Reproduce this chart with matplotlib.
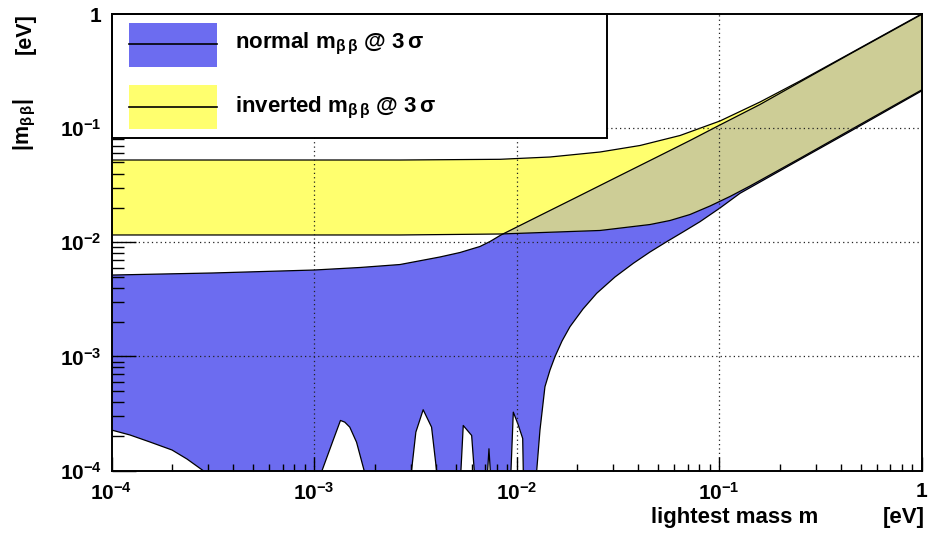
import matplotlib
matplotlib.use('Agg')
import matplotlib.pyplot as plt
import numpy as np
from matplotlib.ticker import LogLocator, NullFormatter, FixedLocator, FixedFormatter
from matplotlib.patches import Rectangle
from matplotlib.lines import Line2D

# ---------------- data ----------------
# inverted hierarchy band
inv_upper_m = [1e-4, 2.659e-3, 8.29e-3, 1.464e-2, 2.584e-2, 4.074e-2, 6.42e-2,
               0.1011, 0.1594, 0.2512, 0.4435, 1.0]
inv_upper_mbb = [0.05256, 0.05256, 0.05331, 0.05585, 0.06176, 0.07044, 0.08617,
                 0.1155, 0.1694, 0.2588, 0.4507, 1.0]

inv_lower_m = [1e-4, 2.659e-3, 8.29e-3, 2.584e-2, 4.563e-2, 5.728e-2, 7.19e-2,
               9.03e-2, 0.1133, 0.1423, 0.2512, 0.4435, 1.0]
inv_lower_mbb = [0.01158, 0.01158, 0.01181, 0.01268, 0.01430, 0.01551, 0.01750,
                 0.02078, 0.02518, 0.03111, 0.05438, 0.0959, 0.2158]

# normal hierarchy band
norm_upper_m = [1e-4, 3.17e-4, 1e-3, 1.688e-3, 2.659e-3, 4.19e-3, 5.26e-3, 6.60e-3,
                7.40e-3, 8.38e-3, 1.306e-2, 1.99e-2, 3.135e-2, 4.94e-2, 7.19e-2,
                0.1011, 0.1594, 0.2512, 0.4435, 1.0]
norm_upper_mbb = [0.00516, 0.00538, 0.00571, 0.00601, 0.00638, 0.00743, 0.00813, 0.00918,
                  0.01015, 0.01158, 0.01716, 0.0249, 0.0373, 0.0558, 0.0779,
                  0.1066, 0.1611, 0.2536, 0.4462, 0.990]

norm_lower_m = [1e-4, 1.234e-4, 1.549e-4, 1.990e-4, 2.359e-4, 2.830e-4, 5.5e-4,
                1.096e-3, 1.242e-3, 1.351e-3, 1.419e-3, 1.502e-3, 1.622e-3, 1.768e-3, 2.3e-3,
                3.032e-3, 3.184e-3, 3.460e-3, 3.807e-3, 4.030e-3, 4.6e-3,
                5.316e-3, 5.458e-3, 6.005e-3, 6.184e-3, 6.7e-3,
                7.204e-3, 7.311e-3, 7.421e-3, 8.3e-3,
                9.393e-3, 9.643e-3, 1.014e-2, 1.073e-2, 1.080e-2, 1.17e-2,
                1.2585e-2, 1.306e-2, 1.382e-2, 1.464e-2, 1.549e-2, 1.678e-2, 1.837e-2,
                2.130e-2, 2.489e-2, 3.064e-2, 3.774e-2, 4.563e-2, 5.516e-2, 6.641e-2,
                8.056e-2, 0.1011, 0.1270, 0.2512, 0.4435, 1.0]
norm_lower_mbb = [2.263e-4, 2.047e-4, 1.777e-4, 1.512e-4, 1.261e-4, 1.0e-4, 3e-5,
                  1.0e-4, 1.833e-4, 2.745e-4, 2.653e-4, 2.398e-4, 1.771e-4, 1.0e-4, 5e-5,
                  1.0e-4, 2.168e-4, 3.407e-4, 2.398e-4, 1.0e-4, 5e-5,
                  1.0e-4, 2.48e-4, 2.028e-4, 1.0e-4, 5e-5,
                  1.0e-4, 1.55e-4, 1.0e-4, 5e-5,
                  1.0e-4, 3.246e-4, 2.584e-4, 1.909e-4, 1.0e-4, 5e-5,
                  1.0e-4, 2.263e-4, 5.424e-4, 7.60e-4, 9.94e-4, 1.363e-3, 1.820e-3,
                  2.601e-3, 3.570e-3, 4.960e-3, 6.539e-3, 8.215e-3, 1.011e-2, 1.230e-2,
                  1.514e-2, 1.995e-2, 2.685e-2, 0.0531, 0.0934, 0.2115]

major_ticks = [1e-4, 1e-3, 1e-2, 1e-1, 1.0]
tick_labels = [r'10$^{-4}$', r'10$^{-3}$', r'10$^{-2}$', r'10$^{-1}$', '1']
grid_vals = [1e-3, 1e-2, 1e-1]

legend_labels = [r'normal m$_{\mathrm{\beta\,\beta}}$ @ 3$\,\mathrm{\sigma}$',
                 r'inverted m$_{\mathrm{\beta\,\beta}}$ @ 3$\,\mathrm{\sigma}$']

# ---------------- style ----------------
plt.rcParams['font.family'] = ['Liberation Sans', 'DejaVu Sans']
plt.rcParams['font.weight'] = 'bold'
plt.rcParams['mathtext.fontset'] = 'custom'
plt.rcParams['mathtext.rm'] = 'Liberation Sans'
plt.rcParams['mathtext.it'] = 'Liberation Sans:italic'
plt.rcParams['mathtext.bf'] = 'Liberation Sans:bold'
plt.rcParams['mathtext.default'] = 'regular'

BLUE = '#6c6cf0'
YELLOW = '#ffff6e'
OVERLAP = '#cdcd96'
EDGE_LW = 0.9

W, H = 930, 542
fig = plt.figure(figsize=(W / 100, H / 100), dpi=100)
ax_l, ax_r, ax_t, ax_b = 111.5, 921.5, 14.0, 470.5
ax = fig.add_axes([ax_l / W, 1 - ax_b / H, (ax_r - ax_l) / W, (ax_b - ax_t) / H])
ax.set_xscale('log')
ax.set_yscale('log')
ax.set_xlim(1e-4, 1)
ax.set_ylim(1e-4, 1)

# band polygons
nx = np.concatenate([norm_upper_m, norm_lower_m[::-1]])
ny = np.concatenate([norm_upper_mbb, norm_lower_mbb[::-1]])
ix = np.concatenate([inv_upper_m, inv_lower_m[::-1]])
iy = np.concatenate([inv_upper_mbb, inv_lower_mbb[::-1]])

ax.fill(nx, ny, facecolor=BLUE, edgecolor='none', zorder=1)
inv_patch = ax.fill(ix, iy, facecolor=YELLOW, edgecolor='none', zorder=1.3)[0]
ov_patch = ax.fill(nx, ny, facecolor=OVERLAP, edgecolor='none', zorder=1.5)[0]
ov_patch.set_clip_path(inv_patch)

ax.plot(norm_upper_m, norm_upper_mbb, color='k', lw=EDGE_LW, zorder=1.8)
ax.plot(norm_lower_m, norm_lower_mbb, color='k', lw=EDGE_LW, zorder=1.8)
ax.plot(inv_upper_m, inv_upper_mbb, color='k', lw=EDGE_LW, zorder=1.8)
ax.plot(inv_lower_m, inv_lower_mbb, color='k', lw=EDGE_LW, zorder=1.8)

# grid
for g in grid_vals:
    ax.axvline(g, color='#222222', lw=0.9, ls=(0, (1, 2.5)), zorder=2)
    ax.axhline(g, color='#222222', lw=0.9, ls=(0, (1, 2.5)), zorder=2)

# ticks
for axis in (ax.xaxis, ax.yaxis):
    axis.set_major_locator(FixedLocator(major_ticks))
    axis.set_major_formatter(FixedFormatter(tick_labels))
    axis.set_minor_locator(LogLocator(base=10, subs=np.arange(2, 10)))
    axis.set_minor_formatter(NullFormatter())
ax.set_axisbelow(False)
ax.tick_params(axis='both', which='both', direction='in', top=False, right=False,
               width=1.0, labelsize=15, color='k')
ax.tick_params(axis='y', which='major', length=17.3, pad=7)
ax.tick_params(axis='y', which='minor', length=8.6)
ax.tick_params(axis='x', which='major', length=10.1, pad=8)
ax.tick_params(axis='x', which='minor', length=5.0)
for sp in ax.spines.values():
    sp.set_linewidth(1.4)
    sp.set_zorder(6)

# legend (drawn by hand, ROOT style)
def fx(px):
    return (px - ax_l) / (ax_r - ax_l)

def fy(py):
    return (ax_b - py) / (ax_b - ax_t)

ax.add_patch(Rectangle((fx(ax_l), fy(138)), fx(607) - fx(ax_l), fy(ax_t) - fy(138),
                       transform=ax.transAxes, facecolor='white', edgecolor='k',
                       lw=1.4, zorder=5, clip_on=False))
sw_specs = [(23, 67, 44, 48, BLUE), (85, 129, 107, 112, YELLOW)]
for (top, bot, liney, base, fc), lab in zip(sw_specs, legend_labels):
    ax.add_patch(Rectangle((fx(129), fy(bot)), fx(217) - fx(129), fy(top) - fy(bot),
                           transform=ax.transAxes, edgecolor='none', facecolor=fc,
                           zorder=5.2))
    ax.add_line(Line2D([fx(129), fx(217)], [fy(liney), fy(liney)], transform=ax.transAxes,
                       color='k', lw=1.2, zorder=5.4))
    ax.text(fx(235), fy(base), lab, transform=ax.transAxes, fontsize=16,
            ha='left', va='baseline', zorder=5.5)

# axis titles
fig.text(818 / W, 1 - 523 / H, 'lightest mass m', fontsize=16, ha='right', va='baseline')
fig.text(925 / W, 1 - 523 / H, '[eV]', fontsize=16, ha='right', va='baseline')
fig.text(25 / W, 1 - 98 / H, r'|m$_{\mathrm{\beta\,\beta}}$|', fontsize=15.5,
         rotation=90, ha='center', va='top')
fig.text(25 / W, 1 - 13 / H, '[eV]', fontsize=15.5, rotation=90, ha='center', va='top')

fig.savefig('out.png', dpi=100)
